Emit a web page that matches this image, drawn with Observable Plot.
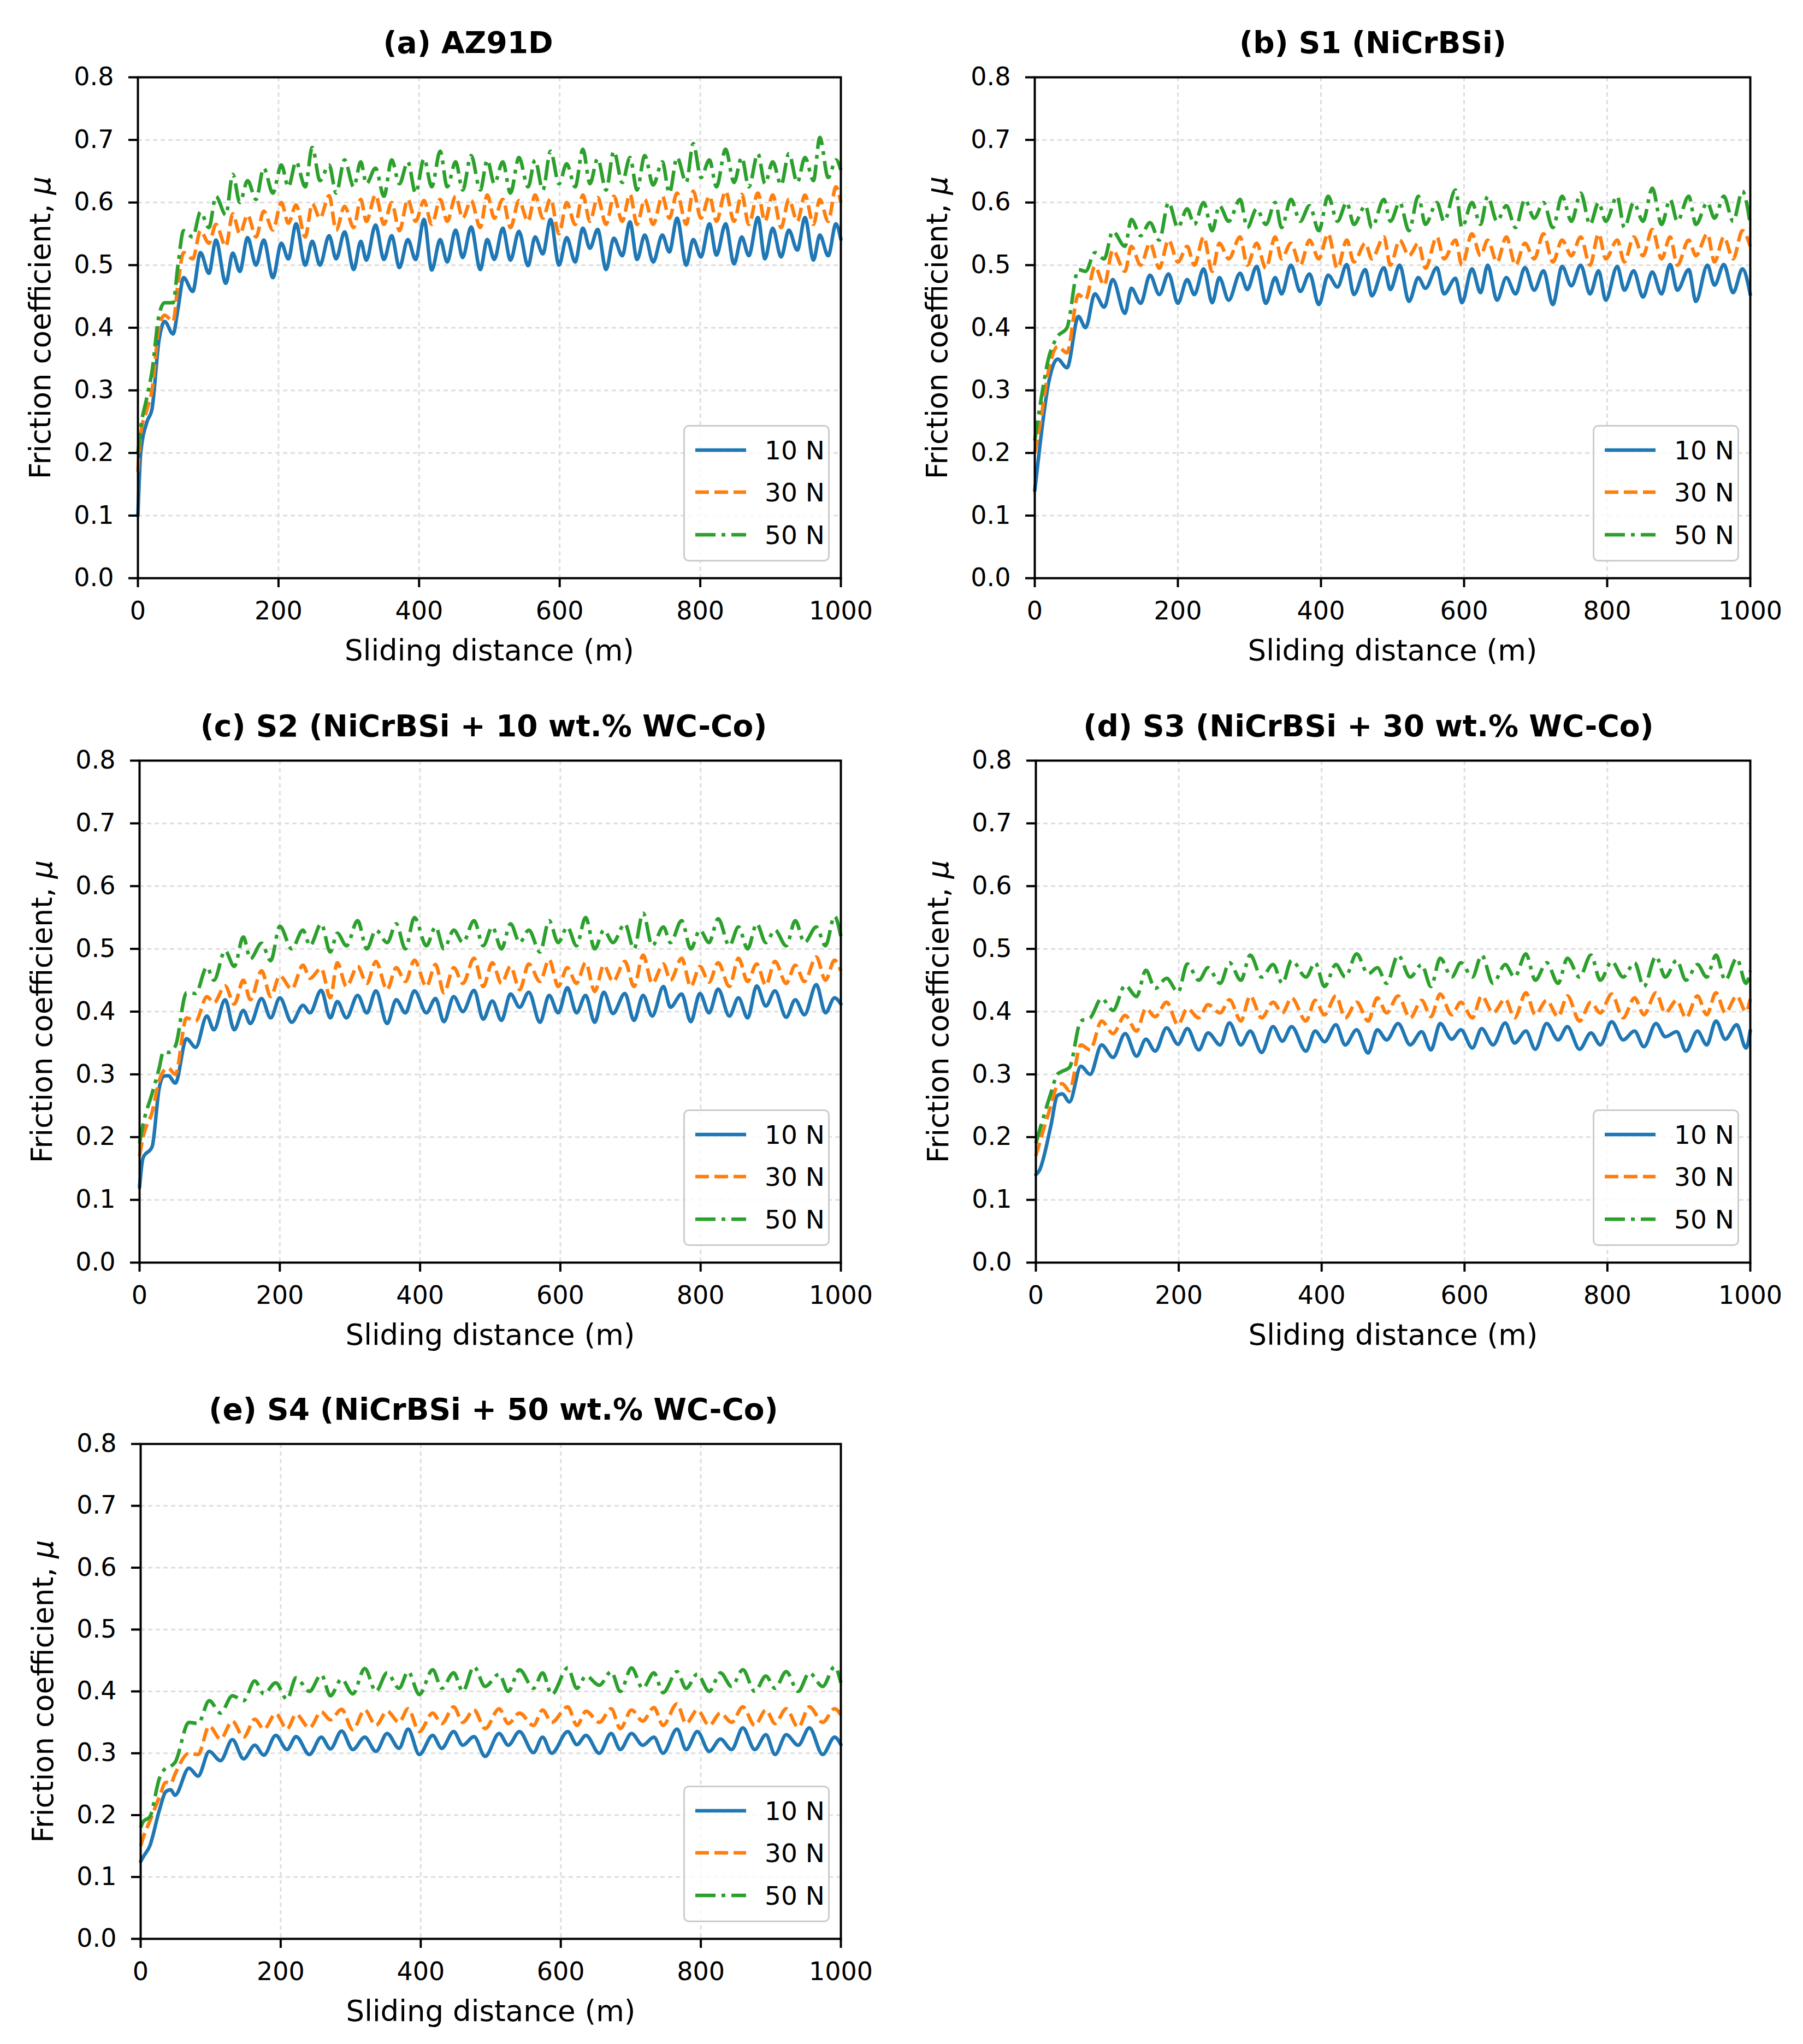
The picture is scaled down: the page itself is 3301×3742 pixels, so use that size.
<!DOCTYPE html>
<html>
<head>
<meta charset="utf-8">
<script src="https://cdn.jsdelivr.net/npm/d3@7"></script>
<script src="https://cdn.jsdelivr.net/npm/@observablehq/plot@0.6"></script>
<style>
html, body { margin: 0; padding: 0; background: #ffffff; }
#page { position: relative; width: 3301px; height: 3742px; background: #ffffff; overflow: hidden; font-family: "DejaVu Sans", sans-serif; }
.panel { position: absolute; }
.legend { position: absolute; box-sizing: border-box; border: 3.5px solid #cccccc; border-radius: 10px; background: rgba(255,255,255,0.8); }
</style>
</head>
<body>
<div id="page"></div>
<script>
// ---------------- labels ----------------
const titles = [
  "(a) AZ91D",
  "(b) S1 (NiCrBSi)",
  "(c) S2 (NiCrBSi + 10 wt.% WC-Co)",
  "(d) S3 (NiCrBSi + 30 wt.% WC-Co)",
  "(e) S4 (NiCrBSi + 50 wt.% WC-Co)"
];
const xLabel = "Sliding distance (m)";
const yLabel = "Friction coefficient, μ";
const loads = ["10 N", "30 N", "50 N"];
const xTicks = [0, 200, 400, 600, 800, 1000];
const yTicks = [0.0, 0.1, 0.2, 0.3, 0.4, 0.5, 0.6, 0.7, 0.8];

// ---------------- (a) AZ91D ----------------
const distA = [0,4,13,20,30,38,50,57,65,78, 89,101,111,125,135,145,156,168,179,192,
  204,214,225,238,248,259,272,282,294,307, 317,325,338,350,361,372,384,395,407,418,
  430,440,452,462,474,487,497,507,519,530, 542,555,565,576,587,599,610,622,633,643,
  654,666,677,689,700,710,721,733,746,756, 767,780,790,801,813,823,836,848,859,869,
  882,892,903,915,926,938,949,961,970,982, 993,1000];
const a10 = [0.10,0.20,0.25,0.27,0.38,0.41,0.39,0.43,0.48,0.458, 0.52,0.487,0.54,0.471,0.519,0.49,0.544,0.50,0.54,0.48,
  0.535,0.51,0.566,0.50,0.538,0.50,0.547,0.51,0.553,0.493, 0.538,0.508,0.564,0.509,0.547,0.496,0.541,0.509,0.573,0.492,
  0.541,0.505,0.556,0.512,0.561,0.493,0.541,0.509,0.559,0.508, 0.554,0.499,0.545,0.518,0.573,0.50,0.544,0.505,0.559,0.527,
  0.557,0.493,0.543,0.515,0.569,0.509,0.548,0.505,0.548,0.521, 0.575,0.50,0.541,0.513,0.566,0.516,0.566,0.502,0.545,0.515,
  0.576,0.51,0.559,0.513,0.556,0.524,0.576,0.508,0.548,0.515, 0.566,0.541];
const a30 = [0.17,0.23,0.27,0.30,0.40,0.42,0.41,0.47,0.52,0.51, 0.555,0.535,0.565,0.53,0.582,0.55,0.58,0.545,0.586,0.556,
  0.60,0.567,0.596,0.545,0.598,0.575,0.611,0.556,0.594,0.56, 0.605,0.57,0.612,0.565,0.60,0.555,0.605,0.57,0.603,0.565,
  0.605,0.57,0.61,0.575,0.603,0.56,0.612,0.575,0.605,0.56, 0.603,0.57,0.612,0.575,0.606,0.55,0.60,0.565,0.612,0.57,
  0.608,0.565,0.61,0.57,0.613,0.565,0.605,0.565,0.61,0.575, 0.615,0.565,0.618,0.575,0.61,0.57,0.618,0.57,0.613,0.565,
  0.615,0.57,0.612,0.56,0.605,0.57,0.612,0.565,0.605,0.57, 0.625,0.60];
const a50 = [0.20,0.24,0.29,0.33,0.42,0.44,0.44,0.50,0.555,0.545, 0.585,0.56,0.61,0.58,0.645,0.60,0.635,0.605,0.655,0.615,
  0.66,0.625,0.665,0.625,0.688,0.635,0.66,0.615,0.668,0.625, 0.665,0.63,0.655,0.61,0.668,0.63,0.665,0.615,0.67,0.625,
  0.682,0.625,0.665,0.62,0.675,0.62,0.668,0.63,0.665,0.615, 0.672,0.625,0.668,0.62,0.682,0.63,0.662,0.625,0.685,0.63,
  0.67,0.62,0.682,0.632,0.672,0.62,0.675,0.628,0.665,0.615, 0.672,0.632,0.694,0.64,0.668,0.625,0.685,0.632,0.672,0.625,
  0.678,0.63,0.665,0.628,0.678,0.632,0.672,0.635,0.704,0.64, 0.668,0.652];

// ---------------- (b) S1 ----------------
const distB = [0,8,19,32,45, 61,71,84,97,109, 126,135,148,161,174, 187,200,213,223,236,
  248,258,271,287,297, 310,323,336,345,358, 371,384,397,410,423, 436,446,462,471,488,
  497,510,523,536,546, 562,572,588,597,611, 623,633,646,659,672, 685,698,711,724,737,
  750,763,776,788,798, 814,824,837,850,863, 876,888,898,914,924, 940,950,963,976,989, 1000];
const b10 = [0.14,0.22,0.31,0.35,0.336, 0.418,0.40,0.454,0.433,0.477, 0.423,0.463,0.439,0.484,0.453, 0.486,0.439,0.477,0.453,0.494,
  0.44,0.48,0.444,0.487,0.461, 0.498,0.439,0.48,0.454,0.50, 0.458,0.486,0.437,0.484,0.465, 0.501,0.453,0.493,0.451,0.496,
  0.461,0.50,0.442,0.48,0.463, 0.496,0.454,0.479,0.44,0.494, 0.456,0.50,0.444,0.48,0.454, 0.496,0.46,0.491,0.437,0.498,
  0.467,0.50,0.454,0.491,0.444, 0.498,0.46,0.491,0.449,0.489, 0.454,0.501,0.46,0.493,0.442, 0.50,0.468,0.501,0.456,0.494, 0.453];
const b30 = [0.20,0.25,0.33,0.37,0.36, 0.453,0.445,0.498,0.468,0.524, 0.49,0.53,0.50,0.535,0.495, 0.54,0.505,0.53,0.50,0.545,
  0.49,0.535,0.51,0.545,0.50, 0.535,0.495,0.545,0.51,0.535, 0.50,0.54,0.51,0.55,0.495, 0.54,0.505,0.535,0.51,0.545,
  0.50,0.54,0.515,0.535,0.495, 0.545,0.51,0.54,0.50,0.55, 0.515,0.54,0.505,0.545,0.50, 0.535,0.51,0.55,0.505,0.54,
  0.515,0.545,0.50,0.55,0.51, 0.54,0.505,0.545,0.515,0.557, 0.51,0.545,0.50,0.54,0.515, 0.55,0.505,0.545,0.51,0.555, 0.53];
const b50 = [0.22,0.28,0.35,0.386,0.40, 0.493,0.49,0.52,0.51,0.554, 0.53,0.573,0.547,0.568,0.54, 0.60,0.56,0.59,0.565,0.60,
  0.555,0.595,0.57,0.605,0.56, 0.59,0.565,0.60,0.56,0.605, 0.57,0.595,0.555,0.61,0.57, 0.60,0.565,0.595,0.56,0.605,
  0.57,0.60,0.555,0.61,0.565, 0.60,0.57,0.62,0.56,0.60, 0.565,0.61,0.57,0.595,0.56, 0.605,0.575,0.60,0.56,0.61,
  0.57,0.615,0.565,0.60,0.57, 0.61,0.56,0.60,0.57,0.623, 0.565,0.605,0.57,0.61,0.565, 0.60,0.575,0.61,0.57,0.618, 0.565];

// ---------------- (c) S2 ----------------
const distC = [0,5,18,28,34, 41,51,67,80,96, 106,122,135,148,158, 174,187,200,217,233,
  243,259,272,282,295, 311,324,337,353,366, 379,392,409,422,434, 448,461,477,490,503,
  516,529,542,555,571, 584,597,610,623,636, 649,662,675,692,705, 718,731,747,757,773,
  786,799,812,825,841, 854,867,880,893,906, 922,935,948,965,978, 991,1000];
const c10 = [0.12,0.167,0.185,0.278,0.297, 0.298,0.286,0.357,0.343,0.393, 0.371,0.419,0.371,0.402,0.381, 0.421,0.39,0.422,0.383,0.41,
  0.398,0.434,0.39,0.416,0.39, 0.426,0.398,0.433,0.381,0.419, 0.398,0.433,0.398,0.421,0.384, 0.424,0.40,0.434,0.388,0.417,
  0.386,0.428,0.407,0.431,0.383, 0.426,0.398,0.438,0.398,0.426, 0.383,0.431,0.397,0.429,0.386, 0.426,0.393,0.44,0.407,0.428,
  0.384,0.429,0.398,0.436,0.393, 0.422,0.39,0.441,0.409,0.433, 0.391,0.419,0.395,0.443,0.398, 0.422,0.412];
const c30 = [0.17,0.20,0.24,0.29,0.305,0.31,0.30, 0.39,0.385,0.424,0.414, 0.441,0.412,0.45,0.419, 0.465,0.424,0.457,0.436,
  0.474,0.453,0.469,0.422, 0.478,0.44,0.472,0.445, 0.48,0.435,0.47,0.448, 0.482,0.44,0.475,0.43, 0.47,0.445,0.485,0.44,
  0.478,0.445,0.472,0.435, 0.476,0.448,0.483,0.44, 0.47,0.445,0.478,0.432, 0.474,0.448,0.48,0.44, 0.49,0.445,0.476,0.45,
  0.485,0.44,0.472,0.447, 0.478,0.44,0.485,0.448, 0.476,0.442,0.48,0.445, 0.474,0.448,0.487,0.45, 0.482,0.465];
const c50 = [0.19,0.22,0.27,0.31,0.336,0.335,0.345, 0.43,0.429,0.471,0.45, 0.497,0.472,0.519,0.484, 0.509,0.481,0.536,0.50,
  0.53,0.505,0.54,0.495, 0.525,0.505,0.545,0.50, 0.53,0.51,0.54,0.50, 0.55,0.505,0.535,0.50, 0.53,0.51,0.545,0.505,
  0.535,0.50,0.54,0.51, 0.53,0.495,0.545,0.51, 0.535,0.505,0.55,0.50, 0.53,0.51,0.54,0.50, 0.557,0.505,0.535,0.51,
  0.545,0.50,0.53,0.51, 0.548,0.505,0.535,0.50, 0.54,0.51,0.53,0.505, 0.545,0.51,0.535,0.505, 0.552,0.52];

// ---------------- (d) S3 ----------------
const distD = [0,5,21,30,37, 47,63,76,92,108, 125,141,154,167,183, 199,212,228,241,258,
  271,287,300,316,332, 345,358,378,391,404, 420,433,449,465,478, 491,507,524,540,553,
  566,582,595,611,624, 640,657,670,686,699, 715,731,744,761,777, 790,806,822,838,851,
  868,881,897,910,926, 939,952,965,981,994, 1000];
const d10 = [0.14,0.147,0.218,0.266,0.269, 0.256,0.313,0.30,0.347,0.327, 0.365,0.329,0.356,0.337,0.374, 0.348,0.373,0.339,0.366,0.347,
  0.382,0.347,0.369,0.335,0.376, 0.353,0.376,0.337,0.369,0.352, 0.379,0.347,0.371,0.334,0.371, 0.355,0.381,0.347,0.368,0.339,
  0.381,0.356,0.371,0.342,0.373, 0.347,0.382,0.35,0.369,0.34, 0.381,0.355,0.376,0.34,0.366, 0.347,0.384,0.355,0.369,0.344,
  0.381,0.36,0.368,0.337,0.369, 0.347,0.385,0.356,0.379,0.342, 0.37];
const d30 = [0.17,0.19,0.25,0.282,0.285,0.274, 0.347,0.339,0.385,0.365, 0.394,0.369,0.405,0.392, 0.415,0.379,0.405,0.39,
  0.411,0.398,0.419,0.385, 0.425,0.39,0.415,0.398, 0.422,0.385,0.418,0.395, 0.425,0.39,0.415,0.385, 0.422,0.398,0.425,0.39,
  0.418,0.392,0.428,0.395, 0.415,0.39,0.425,0.398, 0.42,0.39,0.43,0.395, 0.418,0.392,0.425,0.385, 0.415,0.398,0.428,0.39,
  0.422,0.395,0.43,0.398, 0.418,0.39,0.425,0.395, 0.43,0.398,0.425,0.40, 0.42];
const d50 = [0.19,0.21,0.27,0.30,0.305,0.311, 0.385,0.39,0.421,0.402, 0.442,0.424,0.466,0.437, 0.453,0.431,0.476,0.45,
  0.47,0.445,0.478,0.45, 0.49,0.455,0.475,0.445, 0.482,0.455,0.478,0.44, 0.475,0.455,0.492,0.46, 0.47,0.445,0.49,0.455,
  0.475,0.44,0.485,0.455, 0.478,0.455,0.49,0.445, 0.475,0.455,0.492,0.45, 0.478,0.445,0.485,0.455, 0.49,0.45,0.48,0.455,
  0.478,0.44,0.488,0.455, 0.482,0.45,0.475,0.455, 0.49,0.45,0.485,0.445, 0.465];

// ---------------- (e) S4 ----------------
const distE = [0,4,13,27,36, 43,49,69,82,98, 114,131,147,163,176, 193,209,222,241,258,
  271,287,303,320,336, 352,369,382,398,417, 430,447,460,476,492, 512,525,541,561,574,
  587,610,623,636,655, 672,685,701,717,733, 746,766,779,795,812, 828,844,860,877,893,
  906,922,939,955,974, 991,1000];
const e10 = [0.125,0.133,0.15,0.209,0.238, 0.241,0.232,0.276,0.263,0.303, 0.288,0.322,0.291,0.313,0.297, 0.329,0.306,0.327,0.298,0.326,
  0.307,0.336,0.306,0.326,0.303, 0.332,0.308,0.339,0.298,0.329, 0.308,0.335,0.313,0.327,0.295, 0.332,0.313,0.335,0.301,0.326,
  0.30,0.335,0.314,0.329,0.30, 0.332,0.306,0.332,0.313,0.326, 0.30,0.339,0.306,0.335,0.303, 0.323,0.306,0.341,0.306,0.33,
  0.298,0.33,0.313,0.341,0.298, 0.326,0.314];
const e30 = [0.15,0.165,0.19,0.23,0.253,0.251,0.266, 0.30,0.298,0.344,0.323, 0.352,0.326,0.355,0.339, 0.364,0.339,0.363,0.341,
  0.367,0.354,0.371,0.338, 0.37,0.345,0.368,0.35, 0.372,0.335,0.365,0.348, 0.375,0.35,0.37,0.34, 0.372,0.348,0.365,0.345,
  0.37,0.35,0.375,0.345, 0.368,0.35,0.372,0.34, 0.37,0.352,0.374,0.345, 0.38,0.348,0.37,0.345, 0.365,0.35,0.375,0.345,
  0.37,0.348,0.372,0.342, 0.375,0.35,0.372,0.362];
const e50 = [0.18,0.19,0.197,0.26,0.276,0.279,0.285, 0.35,0.348,0.385,0.365, 0.393,0.385,0.417,0.396, 0.414,0.387,0.422,0.40,
  0.427,0.393,0.42,0.396, 0.437,0.40,0.43,0.405, 0.432,0.395,0.435,0.405, 0.43,0.40,0.44,0.408, 0.428,0.40,0.435,0.405,
  0.43,0.395,0.438,0.405, 0.425,0.41,0.432,0.40, 0.438,0.405,0.43,0.398, 0.432,0.405,0.428,0.40, 0.43,0.408,0.435,0.40,
  0.425,0.405,0.432,0.40, 0.43,0.408,0.44,0.414];

// ---------------- styling / layout (not data) ----------------
const colors = ["#1f77b4", "#ff7f0e", "#2ca02c"];
const dashes = [null, "25,10", "37,11,7,11"];
const panels = [
  { title: titles[0], dist: distA, series: [a10, a30, a50], frame: [252, 141, 1539, 1058], titleDx: -39 },
  { title: titles[1], dist: distB, series: [b10, b30, b50], frame: [1894, 141, 3204, 1058], titleDx: -36 },
  { title: titles[2], dist: distC, series: [c10, c30, c50], frame: [255, 1392, 1539, 2311], titleDx: -12 },
  { title: titles[3], dist: distD, series: [d10, d30, d50], frame: [1896, 1392, 3204, 2311], titleDx: -45 },
  { title: titles[4], dist: distE, series: [e10, e30, e50], frame: [257, 2643, 1539, 3549], titleDx: 5 }
];

const page = document.getElementById("page");

function rowsOf(dist, vals) {
  const n = Math.min(dist.length, vals.length);
  if (dist.length !== vals.length) console.warn("length mismatch", dist.length, vals.length);
  const out = [];
  for (let i = 0; i < n; i++) out.push({ distance: dist[i], mu: vals[i] });
  return out;
}

const gridStyle = { stroke: "#dedede", strokeOpacity: 1, strokeWidth: 3, strokeDasharray: "8,6" };

panels.forEach((p) => {
  const [L, T, R, B] = p.frame;
  const svgLeft = Math.max(0, L - 252);
  const svgTop = T - 141;
  const width = (R - svgLeft) + 95;
  const height = (B - svgTop) + 200;

  const lineMarks = p.series.map((vals, k) =>
    Plot.line(rowsOf(p.dist, vals), {
      x: "distance", y: "mu",
      stroke: colors[k], strokeWidth: 6.5,
      strokeDasharray: dashes[k] || undefined,
      strokeLinecap: k === 0 ? "round" : "butt",
      strokeLinejoin: "round",
      curve: "monotone-x"
    })
  );

  const chart = Plot.plot({
    width, height,
    marginLeft: L - svgLeft,
    marginTop: T - svgTop,
    marginRight: width - (R - svgLeft),
    marginBottom: height - (B - svgTop),
    x: { domain: [0, 1000] },
    y: { domain: [0, 0.8] },
    style: { fontFamily: "DejaVu Sans", fontSize: "45px", color: "black", background: "white", overflow: "visible" },
    marks: [
      Plot.gridX({ ticks: xTicks, ...gridStyle }),
      Plot.gridY({ ticks: yTicks, ...gridStyle }),
      ...lineMarks,
      Plot.frame({ stroke: "black", strokeWidth: 4 }),
      Plot.axisX({ ticks: xTicks, tickSize: 17, tickPadding: 26, strokeWidth: 4, fontSize: 46, label: null, tickFormat: (d) => String(d) }),
      Plot.axisY({ ticks: yTicks, tickSize: 17, tickPadding: 27, strokeWidth: 4, fontSize: 46, label: null, tickFormat: d3.format(".1f") }),
      Plot.text([p.title], { frameAnchor: "top", dx: p.titleDx, dy: -45, lineAnchor: "bottom", textAnchor: "middle", fontWeight: "bold", fontSize: 55, text: (d) => d, fill: "black" }),
      Plot.text([xLabel], { frameAnchor: "bottom", dy: 150, lineAnchor: "bottom", textAnchor: "middle", fontSize: 53, text: (d) => d, fill: "black" }),
      Plot.text([yLabel], { frameAnchor: "left", dx: -177, rotate: -90, lineAnchor: "middle", textAnchor: "middle", fontSize: 53, text: (d) => d, fill: "black" })
    ]
  });

  // italic mu like matplotlib mathtext
  d3.select(chart).selectAll("text").each(function () {
    if (this.textContent === yLabel) {
      this.textContent = "Friction coefficient, ";
      const ts = document.createElementNS("http://www.w3.org/2000/svg", "tspan");
      ts.setAttribute("font-style", "italic");
      ts.textContent = "μ";
      this.appendChild(ts);
    }
  });

  const holder = document.createElement("div");
  holder.className = "panel";
  holder.style.left = svgLeft + "px";
  holder.style.top = svgTop + "px";
  holder.appendChild(chart);
  page.appendChild(holder);

  // legend (matplotlib style, lower right inside the axes)
  const lw = 268, lh = 250;
  const leg = document.createElement("div");
  leg.className = "legend";
  leg.style.left = (R - 20 - lw) + "px";
  leg.style.top = (B - 30 - lh) + "px";
  leg.style.width = lw + "px";
  leg.style.height = lh + "px";
  const ns = "http://www.w3.org/2000/svg";
  const ls = document.createElementNS(ns, "svg");
  ls.setAttribute("width", lw - 7);
  ls.setAttribute("height", lh - 7);
  ls.style.position = "absolute";
  ls.style.left = "0px";
  ls.style.top = "0px";
  const rowY = [43, 120, 198];
  loads.forEach((lab, k) => {
    const ln = document.createElementNS(ns, "line");
    ln.setAttribute("x1", 19); ln.setAttribute("x2", 112);
    ln.setAttribute("y1", rowY[k]); ln.setAttribute("y2", rowY[k]);
    ln.setAttribute("stroke", colors[k]);
    ln.setAttribute("stroke-width", 6.5);
    if (dashes[k]) ln.setAttribute("stroke-dasharray", dashes[k]);
    ln.setAttribute("stroke-linecap", "butt");
    ls.appendChild(ln);
    const tx = document.createElementNS(ns, "text");
    tx.setAttribute("x", 146);
    tx.setAttribute("y", rowY[k] + 17);
    tx.setAttribute("font-family", "DejaVu Sans");
    tx.setAttribute("font-size", 47);
    tx.setAttribute("fill", "black");
    tx.textContent = lab;
    ls.appendChild(tx);
  });
  leg.appendChild(ls);
  page.appendChild(leg);
});
</script>
</body>
</html>
